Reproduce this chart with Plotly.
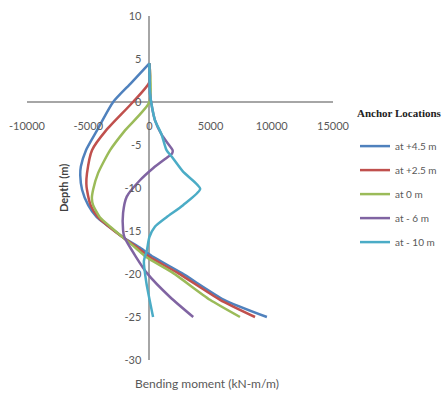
import plotly.graph_objects as go

# ---- data (bending moment kN-m/m vs depth m) ----
depth_p45 = [4.5, 2.2, 0, -3.3, -5.6, -7.5, -8.5, -10.2, -12, -13.4, -14.5, -15.7, -17, -18, -19.9, -23, -25]
moment_p45 = [0, -1500, -2960, -4280, -5180, -5600, -5650, -5500, -5000, -4300, -3300, -2200, -700, 300, 2650, 6100, 9600]

depth_p25 = [4.5, 2.3, 0, -3.3, -5.6, -8.3, -9.5, -10.2, -12, -13.4, -14.5, -15.7, -17, -18, -19.9, -23, -25]
moment_p25 = [0, 0, -1340, -3540, -4690, -5100, -5150, -5100, -4800, -4200, -3300, -2200, -900, 0, 2340, 5770, 8630]

depth_0 = [4.5, 0, -3.3, -5.6, -8.3, -10.2, -11.2, -12, -13.4, -14.5, -15.7, -17, -18, -19.9, -23, -25]
moment_0 = [0, 0, -1990, -3210, -4200, -4600, -4700, -4600, -4050, -3200, -2200, -1100, -300, 1950, 4950, 7400]

depth_m6 = [4.5, 1, -0.5, -2.1, -3.8, -5, -5.6, -6, -6.5, -7.7, -9.1, -11, -12.9, -14.9, -15.7, -18, -19.9, -22.7, -25]
moment_m6 = [0, 50, 200, 450, 1000, 1600, 1900, 1850, 1400, 300, -770, -1850, -2150, -2150, -2050, -1100, -200, 1700, 3580]

depth_m10 = [4.5, 1, -0.5, -2.1, -3.8, -5.6, -6.4, -8.1, -10.1, -12, -13.4, -14.5, -15.7, -17.2, -18.5, -21, -25]
moment_m10 = [0, 50, 200, 450, 1000, 1400, 1850, 2750, 4150, 2750, 1400, 450, 0, -200, -450, -250, 300]

series_names = ["at +4.5 m", "at +2.5 m", "at 0 m", "at - 6 m", "at - 10 m"]
series_colors = ["#4F81BD", "#C0504D", "#9BBB59", "#8064A2", "#4BACC6"]
series_x = [moment_p45, moment_p25, moment_0, moment_m6, moment_m10]
series_y = [depth_p45, depth_p25, depth_0, depth_m6, depth_m10]

x_ticks = [-10000, -5000, 0, 5000, 10000, 15000]
y_ticks = [10, 5, 0, -5, -10, -15, -20, -25, -30]

fig = go.Figure()
for i, (name, col, xs, ys) in enumerate(zip(series_names, series_colors, series_x, series_y)):
    fig.add_trace(go.Scatter(
        x=xs, y=ys, mode="lines", name=name, legendgroup=str(i),
        line=dict(color=col, width=2.5, shape="spline", smoothing=0.6),
    ))

tick_font = dict(family="Lato, Open Sans, sans-serif", size=11, color="#595959")

fig.update_layout(
    width=445, height=404,
    margin=dict(l=27, r=112, t=16, b=44),
    paper_bgcolor="white", plot_bgcolor="white",
    showlegend=True,
    legend=dict(
        xref="container", yref="container",
        x=355 / 445, xanchor="left", y=1 - 103 / 404, yanchor="top",
        title=dict(text="<b>Anchor Locations</b><br> ",
                   font=dict(family="Liberation Serif, serif", size=11, color="#222222")),
        font=dict(family="Lato, Open Sans, sans-serif", size=10, color="#595959"),
        tracegroupgap=5, bgcolor="rgba(0,0,0,0)",
    ),
    xaxis=dict(
        range=[-10000, 15000], tickvals=x_ticks, ticktext=[str(v) for v in x_ticks],
        showgrid=False, zeroline=True, zerolinecolor="#A6A6A6", zerolinewidth=1.5,
        showline=False, anchor="free", position=0.75, ticks="",
        ticklabelstandoff=16, tickfont=tick_font, automargin=False,
    ),
    yaxis=dict(
        range=[-30, 10], tickvals=y_ticks, ticktext=[str(v) for v in y_ticks],
        showgrid=False, zeroline=True, zerolinecolor="#A6A6A6", zerolinewidth=1.5,
        showline=False, anchor="free", position=0.4, ticks="",
        ticklabelstandoff=8, tickfont=tick_font, automargin=False,
    ),
    annotations=[
        dict(text="<b>Depth (m)</b>", textangle=-90, xref="paper", yref="paper",
             x=0.118, y=0.5, xanchor="center", yanchor="middle", showarrow=False,
             font=dict(family="Lato, Open Sans, sans-serif", size=11, color="#404040")),
        dict(text="Bending moment (kN-m/m)", xref="paper", yref="paper",
             x=0.588, y=-0.096, xanchor="center", showarrow=False,
             font=dict(family="Lato, Open Sans, sans-serif", size=12, color="#595959")),
    ],
)

fig.write_html("out.html")
